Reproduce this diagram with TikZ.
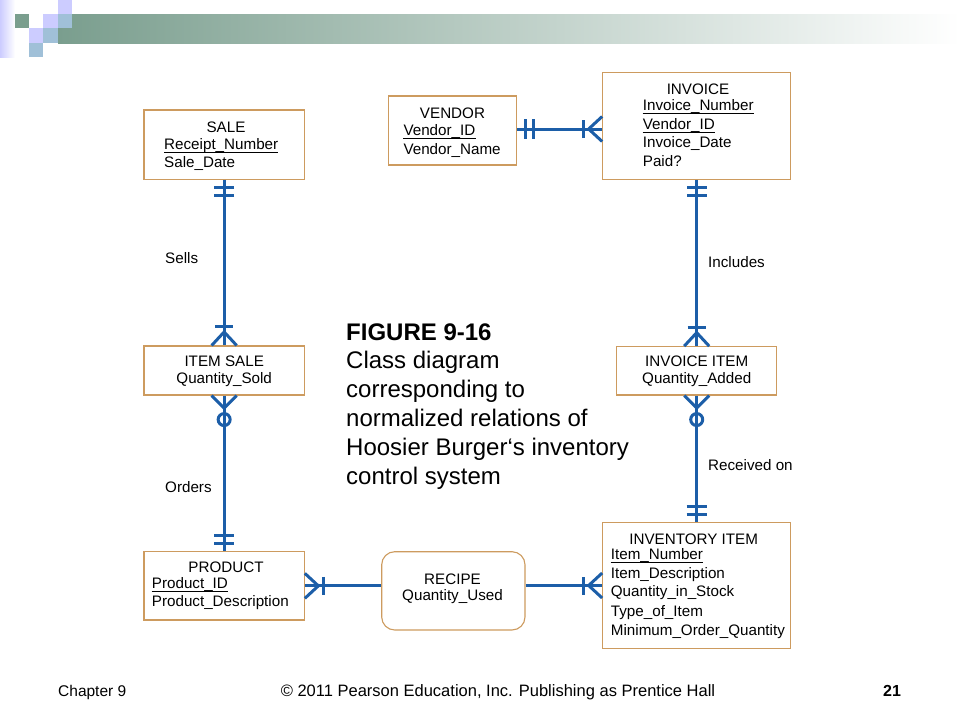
\documentclass[tikz,border=0pt]{standalone}
\usepackage{fontspec}
\setmainfont{Liberation Sans}
\usetikzlibrary{calc}
\definecolor{connblue}{RGB}{28,94,168}
\definecolor{boxtan}{RGB}{205,155,95}
\definecolor{lav}{RGB}{204,204,255}
\definecolor{sagegreen}{RGB}{122,158,142}
\definecolor{paleblue}{RGB}{160,192,216}
\begin{document}
\begin{tikzpicture}[x=1pt,y=-1pt,
  ebox/.style={draw=boxtan,line width=1.1pt,inner sep=0pt,fill=white},
  conn/.style={draw=connblue,line width=3pt},
  ttl/.style={anchor=base,inner sep=0pt,font=\fontsize{15.2}{18}\selectfont},
  attr/.style={anchor=base west,inner sep=0pt,font=\fontsize{15.2}{18}\selectfont},
  caption/.style={anchor=base west,inner sep=0pt,font=\fontsize{24}{29}\selectfont},
  foot/.style={anchor=base west,inner sep=0pt,font=\fontsize{15.5}{18}\selectfont},
  uline/.style={draw=black,line width=0.8pt},
  erone/.pic={\draw[conn] (8,-10) -- (8,10) (16,-10) -- (16,10);},
  ermany/.pic={\draw[conn] (0,-12.5) -- (13.5,0) -- (0,12.5); \draw[conn] (19,-9) -- (19,9);},
  erzeromany/.pic={\draw[conn] (0,-12.5) -- (12.5,0) -- (0,12.5); \draw[conn] (24,0) circle[radius=6pt];}
]
\useasboundingbox (0,0) rectangle (960,720);

% ---- top decoration
\shade[left color=lav,right color=white] (0,0) rectangle (15,57);
\shade[left color=sagegreen,right color=white] (58,14) rectangle (960,43);
\fill[lav] (58,0) rectangle (72,14);
\fill[sagegreen] (15,14) rectangle (29,28);
\fill[lav] (43,14) rectangle (57.5,28);
\fill[paleblue] (57.5,14) rectangle (72,28);
\fill[lav] (29,28) rectangle (43,43);
\fill[paleblue] (43,28) rectangle (57.5,43);
\fill[paleblue] (29,43) rectangle (43,57);

% ---- entity boxes
\node[ebox,minimum width=160.3,minimum height=69.3] (sale) at (224.15,144.65) {};
\node[ebox,minimum width=128.4,minimum height=69] (vendor) at (452.5,130.5) {};
\node[ebox,minimum width=188,minimum height=107] (invoice) at (696.7,125.8) {};
\node[ebox,minimum width=160.3,minimum height=49] (itemsale) at (224.15,370.5) {};
\node[ebox,minimum width=160,minimum height=48.3] (invoiceitem) at (696.7,370.85) {};
\node[ebox,minimum width=160.3,minimum height=68.3] (product) at (224.15,585.85) {};
\node[ebox,rounded corners=13pt,minimum width=143.3,minimum height=78.3] (recipe) at (453.35,590.85) {};
\node[ebox,minimum width=188,minimum height=125.6] (invitem) at (696.7,585.5) {};

% ---- texts
\node[ttl] (saleT) at (226,132.3) {SALE};
\node[attr] (saleA) at (164,149) {Receipt\_Number};
\node[attr] (saleB) at (164,167.3) {Sale\_Date};

\node[ttl] (vendT) at (452.5,118.3) {VENDOR};
\node[attr] (vendA) at (403.3,135) {Vendor\_ID};
\node[attr] (vendB) at (403.3,154) {Vendor\_Name};

\node[ttl] (invT) at (698,94.3) {INVOICE};
\node[attr] (invA) at (642.7,110) {Invoice\_Number};
\node[attr] (invB) at (642.7,129) {Vendor\_ID};
\node[attr] (invC) at (642.7,147.7) {Invoice\_Date};
\node[attr] (invD) at (642.7,166.7) {Paid?};

\node[ttl] (isT) at (224.2,366.7) {ITEM SALE};
\node[ttl] (isA) at (224.2,383.3) {Quantity\_Sold};

\node[ttl] (iiT) at (696.7,366.7) {INVOICE ITEM};
\node[ttl] (iiA) at (696.7,383.3) {Quantity\_Added};

\node[ttl] (prT) at (226,572.3) {PRODUCT};
\node[attr] (prA) at (151.7,588.3) {Product\_ID};
\node[attr] (prB) at (151.7,606.7) {Product\_Description};

\node[ttl] (reT) at (452.5,584.3) {RECIPE};
\node[ttl] (reA) at (452.5,600) {Quantity\_Used};

\node[ttl] (inT) at (693.7,544) {INVENTORY ITEM};
\node[attr] (inA) at (610.7,559.3) {Item\_Number};
\node[attr] (inB) at (610.7,578.3) {Item\_Description};
\node[attr] (inC) at (610.7,596.7) {Quantity\_in\_Stock};
\node[attr] (inD) at (610.7,616) {Type\_of\_Item};
\node[attr] (inE) at (610.7,635) {Minimum\_Order\_Quantity};

% underlines
\foreach \n in {saleA,vendA,invA,invB,prA,inA}
  \draw[uline] ($(\n.base west)+(0,3.3)$) -- ($(\n.base east)+(0,3.3)$);

% ---- connectors
\draw[conn] (sale.south) -- (itemsale.north);
\pic[rotate=-90] at (sale.south) {erone};
\pic[rotate=90] at (itemsale.north) {ermany};

\draw[conn] (itemsale.south) -- (product.north);
\pic[rotate=-90] at (itemsale.south) {erzeromany};
\pic[rotate=90] at (product.north) {erone};

\draw[conn] (invoice.south) -- (invoiceitem.north);
\pic[rotate=-90] at (invoice.south) {erone};
\pic[rotate=90] at (invoiceitem.north) {ermany};

\draw[conn] (invoiceitem.south) -- (invitem.north);
\pic[rotate=-90] at (invoiceitem.south) {erzeromany};
\pic[rotate=90] at (invitem.north) {erone};

\coordinate (ve) at ($(vendor.east)+(0,-1.5)$);
\coordinate (iw) at (invoice.west |- ve);
\draw[conn] (ve) -- (iw);
\pic at (ve) {erone};
\pic[rotate=180] at (iw) {ermany};

\coordinate (rw) at (recipe.west |- product.east);
\draw[conn] (product.east) -- (rw);
\pic at (product.east) {ermany};

\coordinate (re) at (recipe.east |- invitem.west);
\draw[conn] (re) -- (invitem.west);
\pic[rotate=180] at (invitem.west) {ermany};

% ---- relationship labels
\node[attr] (lSells) at (165,263.5) {Sells};
\node[attr] (lOrders) at (165,492.5) {Orders};
\node[attr] (lIncl) at (708,267.5) {Includes};
\node[attr] (lRecv) at (708,470.5) {Received on};

% ---- caption
\node[caption,font=\fontsize{24}{29}\selectfont\bfseries] (c0) at (346,340) {FIGURE 9-16};
\node[caption] (c1) at (346,368.5) {Class diagram};
\node[caption] (c2) at (346,397.5) {corresponding to};
\node[caption] (c3) at (346,426.5) {normalized relations of};
\node[caption] (c4) at (346,455.5) {Hoosier Burger‘s inventory};
\node[caption] (c5) at (346,484.5) {control system};

% ---- footer
\node[foot] (f1) at (58,696) {Chapter 9};
\node[foot,anchor=base,font=\fontsize{16.5}{19}\selectfont] (f2) at (498,696) {© 2011 Pearson Education, Inc. Publishing as Prentice Hall};
\node[foot,anchor=base,font=\fontsize{16}{19}\selectfont\bfseries] (f3) at (892,696) {21};
\end{tikzpicture}
\end{document}
